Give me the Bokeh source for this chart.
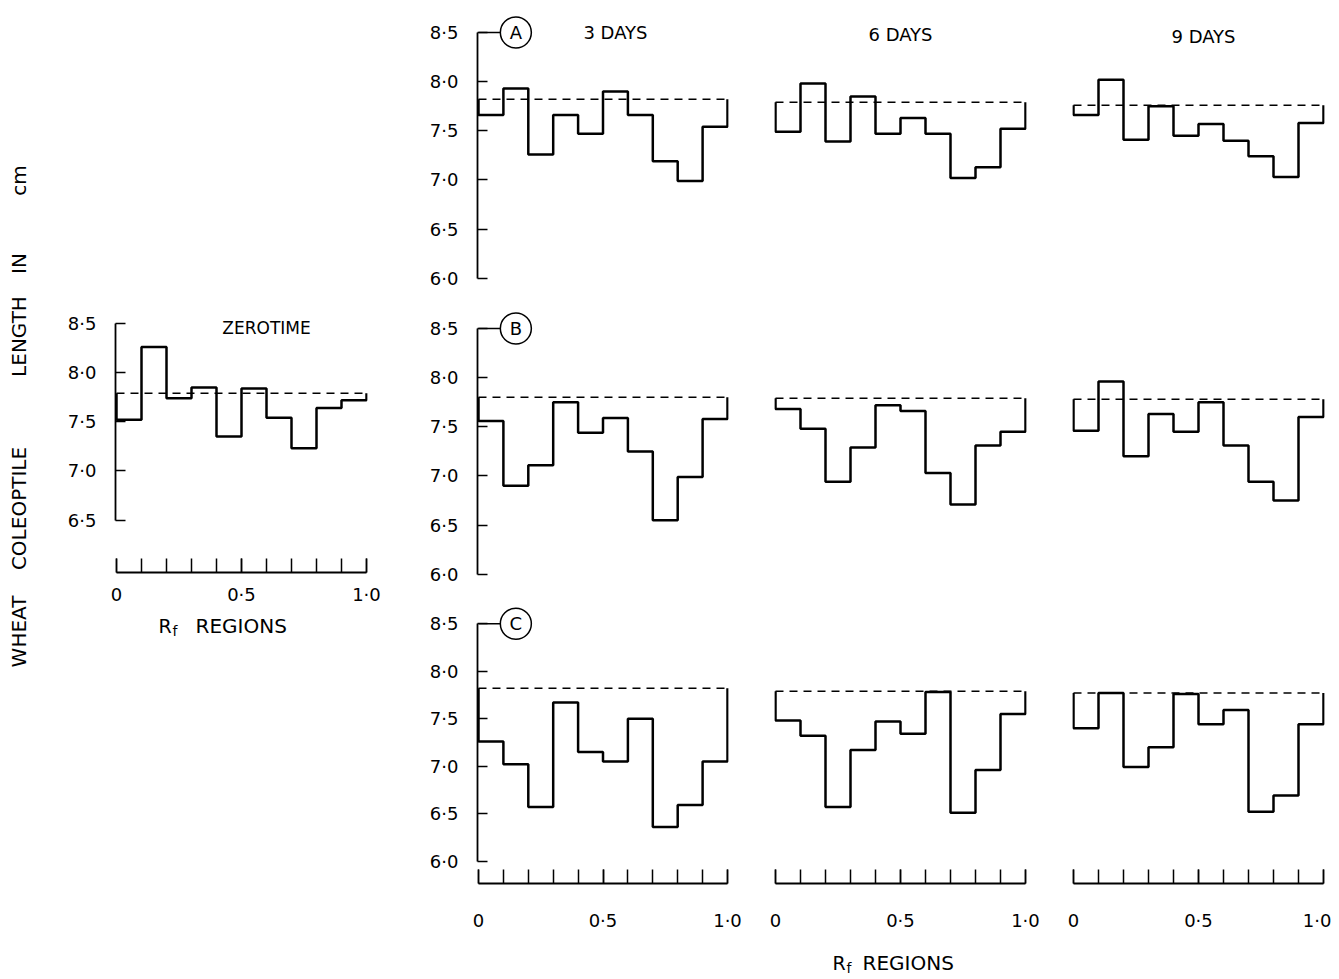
import math
from bokeh.plotting import figure
from bokeh.layouts import row, column
from bokeh.models import Range1d, LinearAxis, FixedTicker, Spacer
from bokeh.core.properties import value
from bokeh.embed import file_html
from bokeh.resources import INLINE

# ---------------- data ----------------
rf_edges = [0.0, 0.1, 0.2, 0.3, 0.4, 0.5, 0.6, 0.7, 0.8, 0.9, 1.0]
rf_major_ticks = [0.0, 0.5, 1.0]
rf_tick_labels = ["0", "0·5", "1·0"]
y_ticks = [6.0, 6.5, 7.0, 7.5, 8.0, 8.5]
y_tick_labels = ["6·0", "6·5", "7·0", "7·5", "8·0", "8·5"]
zerotime_y_ticks = [6.5, 7.0, 7.5, 8.0, 8.5]
zerotime_y_tick_labels = ["6·5", "7·0", "7·5", "8·0", "8·5"]

day_titles = ["3 DAYS", "6 DAYS", "9 DAYS"]
group_names = ["A", "B", "C"]
y_title_words = ["WHEAT", "COLEOPTILE", "LENGTH", "IN", "cm"]

zerotime = [7.52, 8.26, 7.74, 7.85, 7.35, 7.84, 7.54, 7.23, 7.64, 7.72]
zerotime_control = 7.79

a_3_days = [7.66, 7.93, 7.26, 7.66, 7.47, 7.90, 7.66, 7.19, 6.99, 7.54]
a_6_days = [7.49, 7.98, 7.39, 7.85, 7.47, 7.63, 7.47, 7.02, 7.13, 7.52]
a_9_days = [7.66, 8.02, 7.41, 7.75, 7.45, 7.57, 7.40, 7.24, 7.03, 7.58]
a_control = [7.82, 7.79, 7.76]

b_3_days = [7.56, 6.90, 7.11, 7.75, 7.44, 7.59, 7.25, 6.55, 6.99, 7.58]
b_6_days = [7.68, 7.48, 6.94, 7.29, 7.72, 7.66, 7.03, 6.71, 7.31, 7.45]
b_9_days = [7.46, 7.96, 7.20, 7.63, 7.45, 7.75, 7.31, 6.94, 6.75, 7.60]
b_control = [7.80, 7.79, 7.78]

c_3_days = [7.26, 7.02, 6.57, 7.67, 7.15, 7.05, 7.50, 6.36, 6.59, 7.05]
c_6_days = [7.48, 7.32, 6.57, 7.17, 7.47, 7.34, 7.78, 6.51, 6.96, 7.55]
c_9_days = [7.40, 7.77, 6.99, 7.20, 7.76, 7.44, 7.59, 6.52, 6.69, 7.44]
c_control = [7.82, 7.79, 7.77]

group_series = [
    [a_3_days, a_6_days, a_9_days],
    [b_3_days, b_6_days, b_9_days],
    [c_3_days, c_6_days, c_9_days],
]
group_controls = [a_control, b_control, c_control]

# ---------------- style / layout ----------------
FONT = value("DejaVu Sans")
S = 98.3          # pixels per cm on the y scale
FRAME_W = 252
XR = (-0.004, 1.004)
STEP_W = 2.5


def yrange(y85_px, top_px, bottom_px):
    return (8.5 - (bottom_px - y85_px) / S, 8.5 + (y85_px - top_px) / S)


def make_fig(width, height, bl, br, bt, bb, yr):
    p = figure(width=width, height=height, x_range=Range1d(*XR), y_range=Range1d(*yr),
               x_axis_type=None, y_axis_type=None, toolbar_location=None,
               output_backend="svg", min_border_left=bl, min_border_right=br,
               min_border_top=bt, min_border_bottom=bb)
    p.outline_line_color = None
    p.background_fill_color = "white"
    p.border_fill_color = "white"
    return p


def text_fig(x0, x1, y0, y1):
    """A figure without axes whose data coordinates equal page pixels."""
    p = figure(width=x1 - x0, height=y1 - y0, x_range=Range1d(x0, x1),
               y_range=Range1d(y1, y0), x_axis_type=None, y_axis_type=None,
               toolbar_location=None, output_backend="svg",
               min_border_left=0, min_border_right=0, min_border_top=0, min_border_bottom=0)
    p.outline_line_color = None
    p.background_fill_color = "white"
    p.border_fill_color = "white"
    return p


def add_y_axis(p, ticks, labels):
    ax = LinearAxis(ticker=FixedTicker(ticks=ticks),
                    major_label_overrides=dict(zip(ticks, labels)),
                    bounds=(ticks[0], ticks[-1]))
    ax.major_tick_in = 10
    ax.major_tick_out = 0
    ax.minor_tick_in = 0
    ax.minor_tick_out = 0
    ax.axis_line_width = 1.8
    ax.axis_line_color = "black"
    ax.major_tick_line_width = 1.6
    ax.major_tick_line_color = "black"
    ax.major_label_standoff = 19
    ax.major_label_text_font = "DejaVu Sans"
    ax.major_label_text_font_size = "18px"
    ax.major_label_text_color = "black"
    p.add_layout(ax, "left")


def add_x_axis(p, standoff):
    ax = LinearAxis(ticker=FixedTicker(ticks=rf_major_ticks, minor_ticks=rf_edges),
                    major_label_overrides=dict(zip(rf_major_ticks, rf_tick_labels)),
                    bounds=(rf_edges[0], rf_edges[-1]))
    ax.major_tick_in = 14
    ax.major_tick_out = 0
    ax.minor_tick_in = 14
    ax.minor_tick_out = 0
    ax.axis_line_width = 1.8
    ax.axis_line_color = "black"
    ax.major_tick_line_width = 1.5
    ax.minor_tick_line_width = 1.5
    ax.major_tick_line_color = "black"
    ax.minor_tick_line_color = "black"
    ax.major_label_standoff = standoff
    ax.major_label_text_font = "DejaVu Sans"
    ax.major_label_text_font_size = "18px"
    ax.major_label_text_color = "black"
    p.add_layout(ax, "below")


def draw_panel(p, vals, ctrl):
    xs = [rf_edges[0]] + rf_edges[:-1] + [rf_edges[-1]]
    ys = [ctrl] + list(vals) + [ctrl]
    p.step(xs, ys, mode="after", line_color="black", line_width=STEP_W)
    p.line([rf_edges[0], rf_edges[-1]], [ctrl, ctrl], line_color="black",
           line_width=1.5, line_dash="8 6")


def add_rf_text(p, x_r, y_mid, gap):
    p.text(x=[x_r], y=[y_mid], text=["R"], text_font=FONT, text_font_size="19px",
           text_align="left", text_baseline="middle", text_color="black")
    p.text(x=[x_r + 14], y=[y_mid + 5], text=["f"], text_font=FONT, text_font_size="14px",
           text_align="left", text_baseline="middle", text_color="black")
    p.text(x=[x_r + gap], y=[y_mid], text=["REGIONS"], text_font=FONT, text_font_size="20px",
           text_align="left", text_baseline="middle", text_color="black")


# ---------------- left area: y title + zerotime panel ----------------
YT_W, YT_H = 38, 678
pyt = text_fig(0, YT_W, 0, YT_H)
word_centres = [631, 508, 336, 263, 180]
pyt.text(x=[18] * len(y_title_words), y=word_centres, text=y_title_words, angle=math.pi / 2,
         text_font=FONT, text_font_size="20px", text_align="center", text_baseline="middle",
         text_color="black")

ZW = 388                     # width of the zerotime column (page x 38 .. 426)
z_top, z_bottom, z_y85 = 305, 572, 323
z_yr = yrange(z_y85, z_top, z_bottom)
z_bl = 115 - YT_W
Z_BB = 35
pz = make_fig(ZW, (z_bottom - z_top) + Z_BB, z_bl, ZW - z_bl - FRAME_W, 0, Z_BB, z_yr)
draw_panel(pz, zerotime, zerotime_control)
add_y_axis(pz, zerotime_y_ticks, zerotime_y_tick_labels)
add_x_axis(pz, 11)
pz.text(x=[0.6], y=[8.5 - 4 / S], text=["ZEROTIME"], text_font=FONT, text_font_size="17px",
        text_align="center", text_baseline="middle", text_color="black")

RFL_X0, RFL_H = 140, 36
rf_left = text_fig(RFL_X0, YT_W + ZW, z_bottom + Z_BB, z_bottom + Z_BB + RFL_H)
add_rf_text(rf_left, 158, 625, 37)
rf_left_row = row(Spacer(width=RFL_X0 - YT_W, height=RFL_H), rf_left)

left_area = row(pyt, column(Spacer(width=ZW, height=z_top), pz, rf_left_row))

# ---------------- 3 x 3 grid (right) ----------------
row_geom = [  # (figure top, frame top, frame bottom, y of 8.5) in page pixels
    (0, 8, 306, 32),
    (306, 306, 602, 328),
    (602, 602, 893, 624),
]
col_border = [(50, 22), (24, 22), (24, 7)]   # first column frame starts at page x 476
col_widths = [bl + FRAME_W + br for bl, br in col_border]
title_x = [0.55, 0.5, 0.52]
C_BB = 40
RF_H = 42

rows = []
for gi, (ftop, top, bottom, y85) in enumerate(row_geom):
    yr = yrange(y85, top, bottom)
    bt = top - ftop
    bb = C_BB if gi == 2 else 0
    figs = []
    for ci in range(3):
        bl, br = col_border[ci]
        p = make_fig(col_widths[ci], bt + (bottom - top) + bb, bl, br, bt, bb, yr)
        draw_panel(p, group_series[gi][ci], group_controls[gi][ci])
        if ci == 0:
            add_y_axis(p, y_ticks, y_tick_labels)
            p.line([0.0, 0.09], [8.5, 8.5], line_color="black", line_width=1.6)
            p.scatter(x=[0.15], y=[8.5], size=31, marker="circle", fill_color="white",
                      line_color="black", line_width=1.5)
            p.text(x=[0.15], y=[8.5], text=[group_names[gi]], text_font=FONT,
                   text_font_size="18px", text_align="center", text_baseline="middle",
                   text_color="black")
        if gi == 0:
            p.text(x=[title_x[ci]], y=[8.5 - 2 * ci / S], text=[day_titles[ci]], text_font=FONT,
                   text_font_size="18px", text_align="center", text_baseline="middle",
                   text_color="black")
        if gi == 2:
            add_x_axis(p, 26)
        figs.append(p)
    rows.append(row(*figs))

grid_x0 = YT_W + ZW
rf_grid = text_fig(grid_x0 + col_widths[0], grid_x0 + col_widths[0] + col_widths[1],
                   893 + C_BB, 893 + C_BB + RF_H)
add_rf_text(rf_grid, 832, 962, 30)
rows.append(row(Spacer(width=col_widths[0], height=RF_H), rf_grid,
                Spacer(width=col_widths[2], height=RF_H)))

right_col = column(*rows)
layout = row(left_area, right_col)

open("out.html", "w").write(file_html(layout, INLINE))
